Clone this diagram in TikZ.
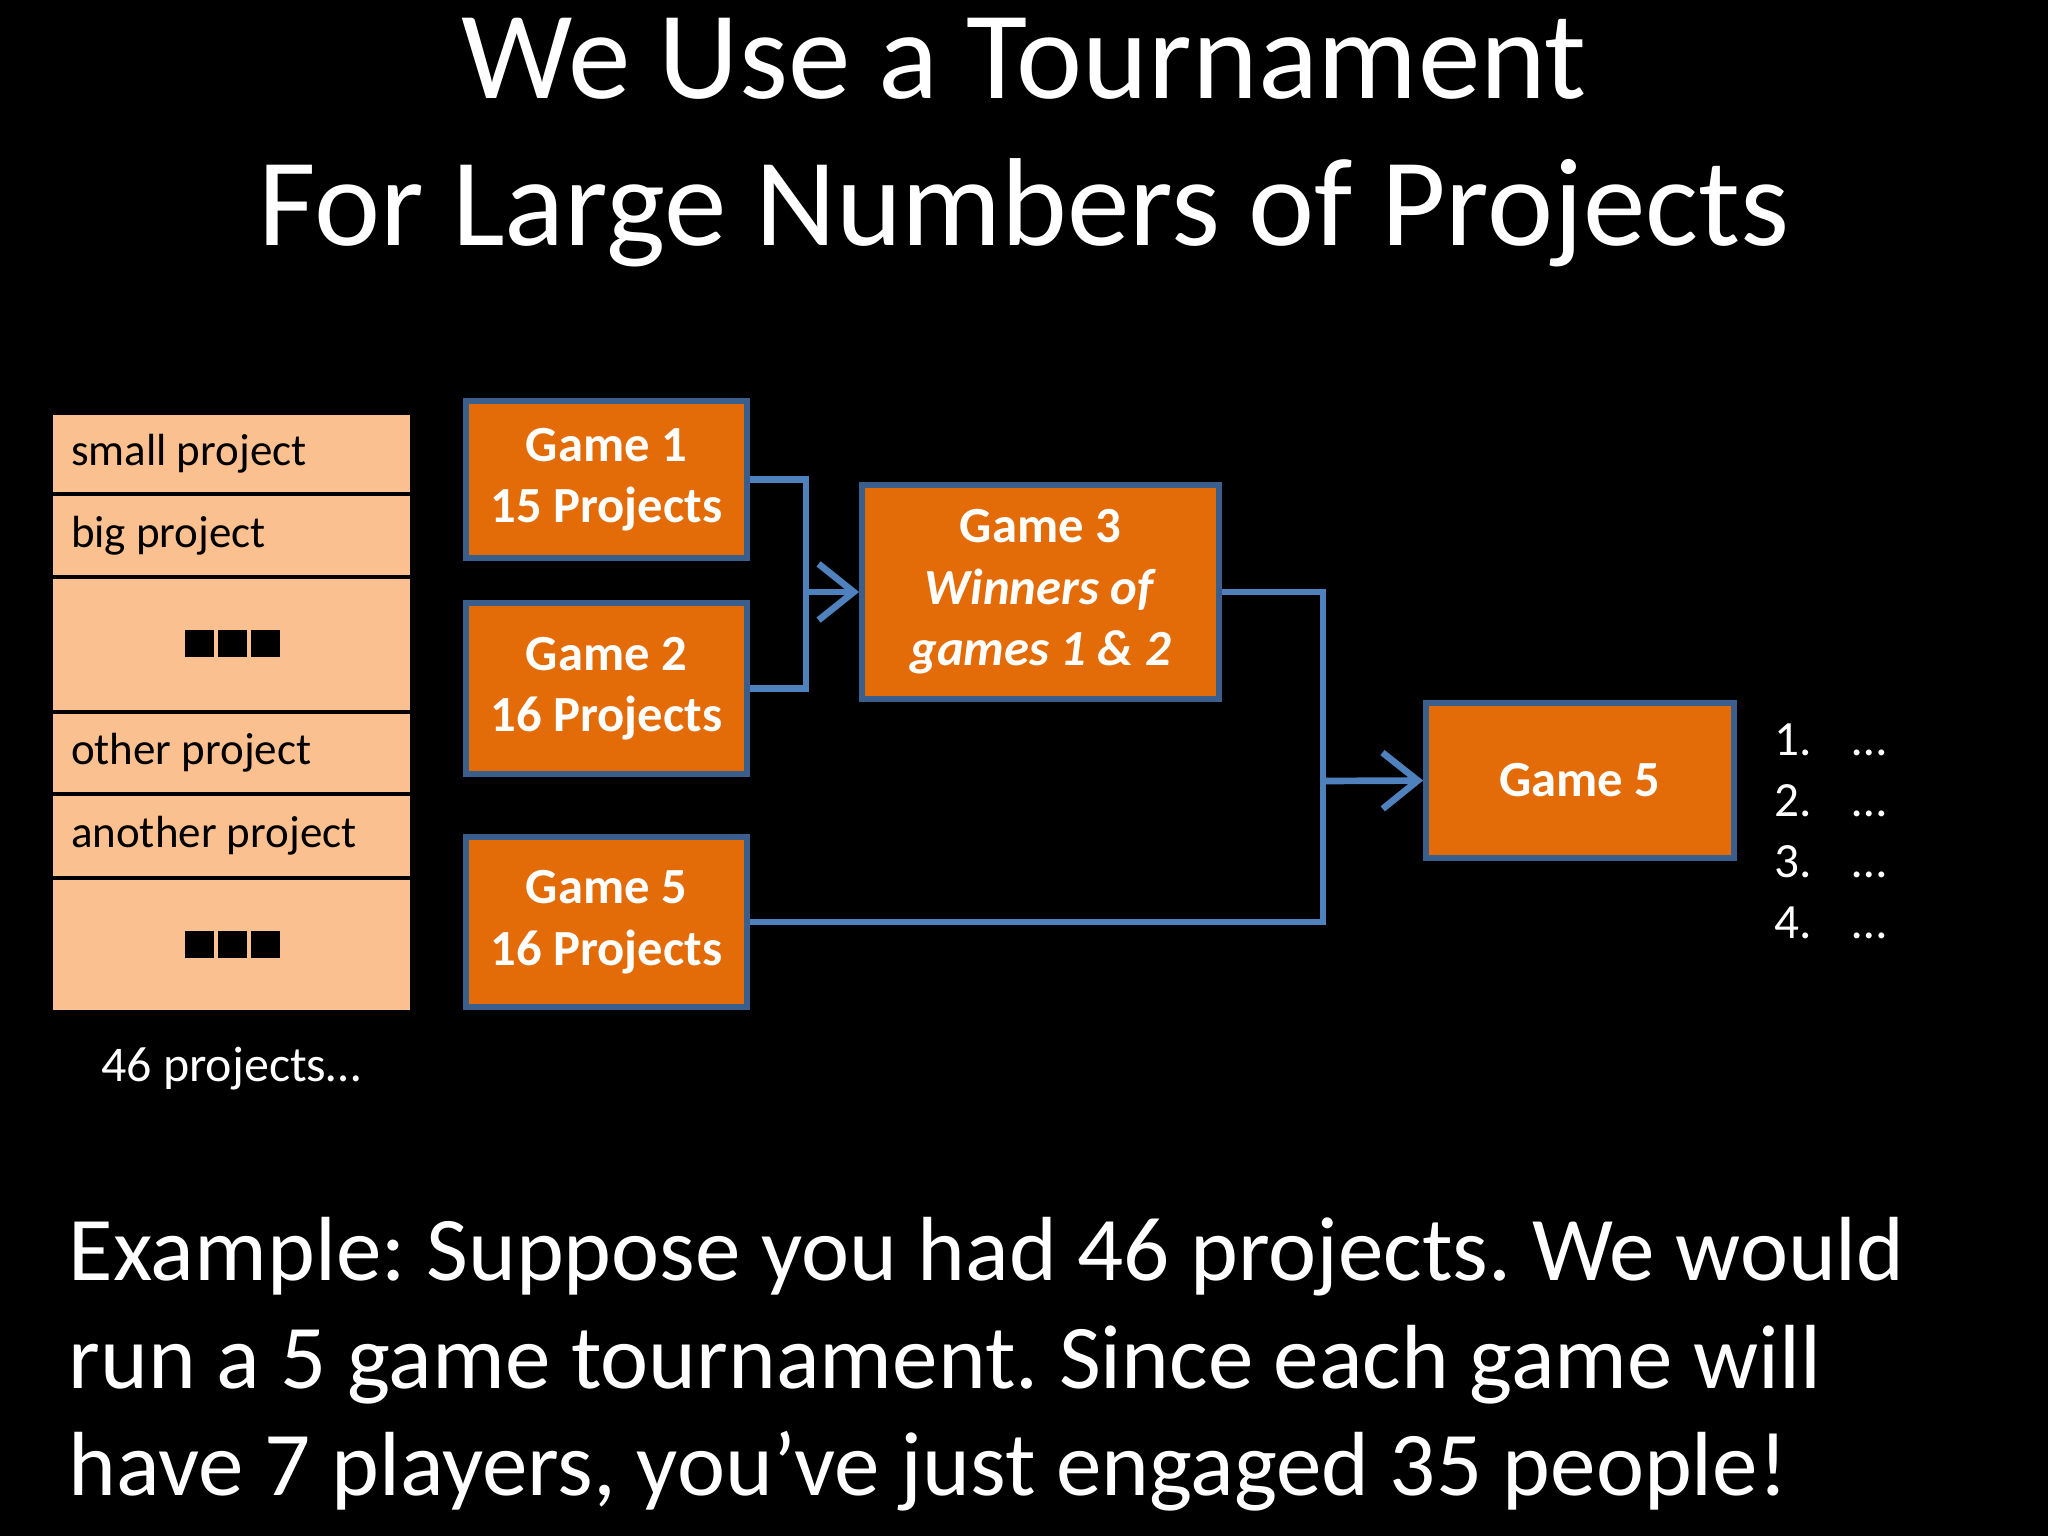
\documentclass[tikz,border=0pt]{standalone}
\usepackage{fontspec}
\setmainfont{Carlito}
\usetikzlibrary{arrows.meta}
\definecolor{gameorange}{HTML}{E36C09}
\definecolor{gameedge}{HTML}{3A5F8C}
\definecolor{linkblue}{HTML}{4F81BD}
\definecolor{rowpeach}{HTML}{FAC090}
\frenchspacing

\begin{document}
\begin{tikzpicture}[x=0.01cm,y=-0.01cm,
	gamebox/.style={rectangle,fill=gameorange,draw=gameedge,line width=1.6pt,
		text=white,align=center,inner sep=0pt,
		font=\fontsize{14.4}{17.5}\selectfont\bfseries},
	rowbox/.style={rectangle,fill=rowpeach,draw=black,line width=0.9pt,
		minimum width=3.59cm,inner sep=0pt},
	rowtext/.style={anchor=west,inner sep=0pt,font=\fontsize{12.8}{15}\selectfont},
	wtext/.style={text=white,anchor=base west,inner sep=0pt},
	conn/.style={draw=linkblue,line width=1.9pt},
	tip/.style={-{Straight Barb[length=10pt,width=16pt]}}]
		% page
		\fill[black] (0,0) rectangle (2048,1536);
		\useasboundingbox (0,0) rectangle (2048,1536);
		% title
		\node[text=white,anchor=base,font=\fontsize{35.6}{42}\selectfont] (title1) at (1024,98) {We Use a Tournament};
		\node[text=white,anchor=base,font=\fontsize{35.6}{42}\selectfont] (title2) at (1024,245) {For Large Numbers of Projects};
		% list of projects
		\node[rowbox,minimum height=0.81cm] (r1) at (231.5,453.5) {};
		\node[rowbox,minimum height=0.83cm] (r2) at (231.5,535.5) {};
		\node[rowbox,minimum height=1.35cm] (r3) at (231.5,644.5) {};
		\node[rowbox,minimum height=0.82cm] (r4) at (231.5,753) {};
		\node[rowbox,minimum height=0.84cm] (r5) at (231.5,836) {};
		\node[rowbox,minimum height=1.34cm] (r6) at (231.5,945) {};
		\node[rowtext] (t1) at ([xshift=0.2cm]r1.west) {small project};
		\node[rowtext] (t2) at ([xshift=0.2cm]r2.west) {big project};
		\node[rowtext] (t4) at ([xshift=0.2cm]r4.west) {other project};
		\node[rowtext] (t5) at ([xshift=0.2cm]r5.west) {another project};
		\foreach \sx in {185,218,251} {
			\fill[black] (\sx,630) rectangle ++(29,27);
			\fill[black] (\sx,931) rectangle ++(29,27);
		}
		\node[text=white,anchor=base,font=\fontsize{14.2}{16}\selectfont] (count) at (231,1081) {46 projects…};
		% games
		\node[gamebox,minimum width=2.81cm,minimum height=1.57cm] (g1) at (606.5,479.5) {Game 1\\15 Projects};
		\node[gamebox,minimum width=2.81cm,minimum height=1.71cm] (g2) at (606.5,688.5) {Game 2\\16 Projects};
		\node[gamebox,minimum width=2.81cm,minimum height=1.70cm] (g5a) at (606.5,922) {Game 5\\16 Projects};
		\node[gamebox,minimum width=3.57cm,minimum height=2.14cm] (g3) at (1040.5,592) {Game 3\\\textit{Winners of}\\\textit{games 1 \& 2}};
		\node[gamebox,minimum width=3.08cm,minimum height=1.55cm] (g5b) at (1580,780.5) {Game 5};
		% bracket
		\coordinate (j1) at (806,592);
		\coordinate (j2) at (1323,781);
		\draw[conn] (g1.east) -| (j1) |- (g2.east);
		\draw[conn,tip] (j1) -- (g3.west);
		\draw[conn] (g3.east) -| (j2) |- (g5a.east);
		\draw[conn,tip] (j2) -- (g5b.west);
		% ranking
		\foreach \i in {1,...,4} {
			\node[wtext,font=\fontsize{14}{16}\selectfont] (n\i) at (1774,{755+(\i-1)*61}) {\i.};
			\node[wtext,font=\fontsize{14}{16}\selectfont] (d\i) at (1852,{755+(\i-1)*61}) {…};
		}
		% example text
		\node[wtext,font=\fontsize{25.9}{31}\selectfont] (ex1) at (68,1280) {Example: Suppose you had 46 projects. We would};
		\node[wtext,font=\fontsize{25.9}{31}\selectfont] (ex2) at (68,1388) {run a 5 game tournament. Since each game will};
		\node[wtext,font=\fontsize{25.9}{31}\selectfont] (ex3) at (68,1495) {have 7 players, you’ve just engaged 35 people!};
\end{tikzpicture}
\end{document}
